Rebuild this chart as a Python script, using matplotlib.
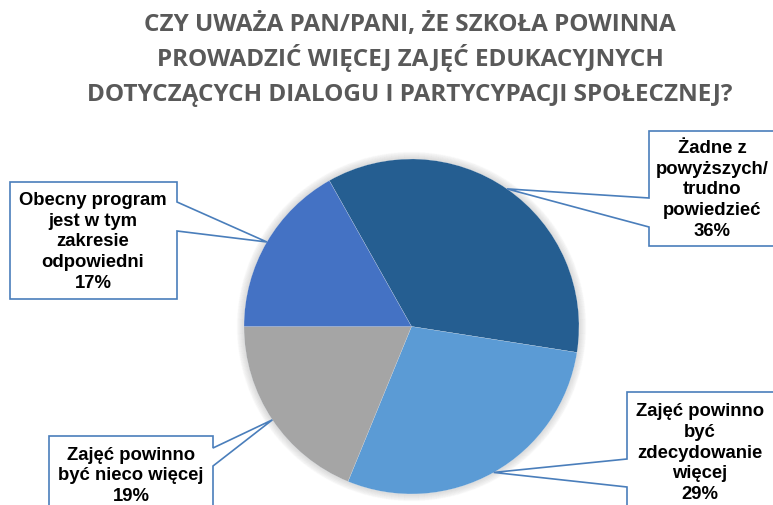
import numpy as np
import matplotlib
matplotlib.use("Agg")
import matplotlib.pyplot as plt
from matplotlib.patches import Polygon, Circle

# Chart data
title_lines = ["CZY UWAŻA PAN/PANI, ŻE SZKOŁA POWINNA",
               "PROWADZIĆ WIĘCEJ ZAJĘĆ EDUKACYJNYCH",
               "DOTYCZĄCYCH DIALOGU I PARTYCYPACJI SPOŁECZNEJ?"]
categories = ["Żadne z\npowyższych/\ntrudno\npowiedzieć",
              "Zajęć powinno\nbyć\nzdecydowanie\nwięcej",
              "Zajęć powinno\nbyć nieco więcej",
              "Obecny program\njest w tym\nzakresie\nodpowiedni"]
percents = [36, 29, 19, 17]
colors = ["#255E91", "#5B9BD5", "#A5A5A5", "#4472C4"]

W, H = 773, 506
CX, CY, R = 411.5, 327.5, 167.5   # pie centre / radius in pixels (y down)

# callout boxes: (left, top, right, bottom), pointer side, pointer base on edge, text centre
callouts = [
    dict(box=(649, 132, 790, 247), side="left", base=(199, 228), text=(712, 190)),
    dict(box=(627, 393, 790, 530), side="left", base=(460, 488), text=(700, 453)),
    dict(box=(49, 437, 213, 530), side="right", base=(449, 467), text=(131, 476)),
    dict(box=(10, 183, 177, 300), side="right", base=(203, 232), text=(93, 242)),
]


def px(x, y):
    """pixel coords (y down) -> figure fraction"""
    return (x / W, 1 - y / H)


fig = plt.figure(figsize=(W / 100, H / 100), dpi=100)
ax = fig.add_axes([(CX - R) / W, (H - CY - R) / H, 2 * R / W, 2 * R / H])

# soft halo around the pie
for i in range(1, 11):
    ax.add_patch(Circle((0, 0), 1 + i * 0.004, color="black", alpha=0.01,
                        zorder=0, clip_on=False))

wedges, _ = ax.pie(percents, colors=colors, startangle=90 + 29.4,
                   counterclock=False, radius=1,
                   wedgeprops=dict(edgecolor="#dfe6ee", linewidth=0.15))
ax.set_xlim(-1, 1)
ax.set_ylim(-1, 1)
ax.set_aspect("equal")
ax.axis("off")

fig.canvas.draw()
inv = fig.transFigure.inverted()

edge_col = "#4A7EBB"
for w, cat, pct, c in zip(wedges, categories, percents, callouts):
    mid = np.deg2rad((w.theta1 + w.theta2) / 2)
    tip = inv.transform(ax.transData.transform((np.cos(mid) * w.r, np.sin(mid) * w.r)))
    l, t, r, b = c["box"]
    b1, b2 = c["base"]
    if c["side"] == "left":
        pts = [px(l, t), px(r, t), px(r, b), px(l, b), px(l, b2), tuple(tip), px(l, b1)]
    else:
        pts = [px(l, t), px(r, t), px(r, b1), tuple(tip), px(r, b2), px(r, b), px(l, b)]
    fig.add_artist(Polygon(pts, closed=True, facecolor="white", edgecolor=edge_col,
                           linewidth=1.2, transform=fig.transFigure, zorder=3))
    tx, ty = px(*c["text"])
    fig.text(tx, ty, f"{cat}\n{pct}%", ha="center", va="center", fontsize=13.3,
             fontweight="bold", family="Liberation Sans", color="black",
             linespacing=1.27, zorder=4)

# title
for i, line in enumerate(title_lines):
    fig.text(*px(410, 31 + 35 * i), line, ha="center", va="baseline",
             fontsize=17.5, fontweight="bold", family="Open Sans", color="#595959")

fig.savefig("out.png", dpi=100)
